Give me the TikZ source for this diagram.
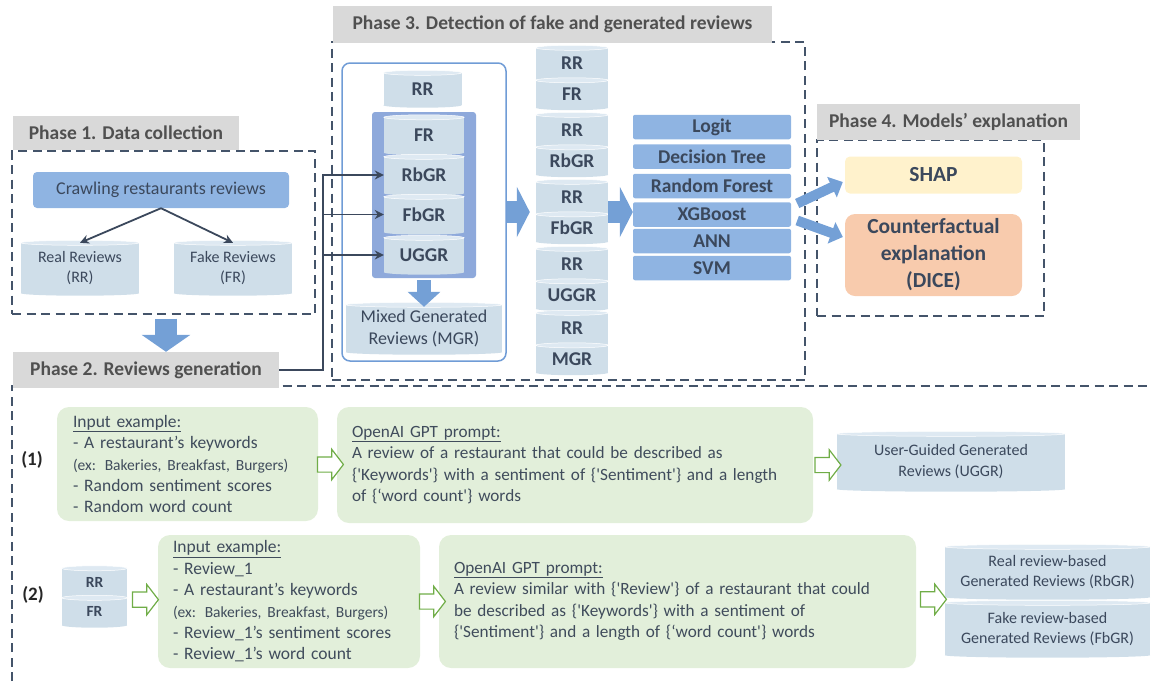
\documentclass[tikz,border=0pt]{standalone}
\usepackage{fontspec}
\setmainfont{Carlito}
\usetikzlibrary{arrows.meta, positioning, calc, shapes.arrows}
\definecolor{txtdark}{RGB}{59,72,92}
\definecolor{txtbody}{RGB}{64,76,92}
\definecolor{labeltext}{RGB}{80,80,80}
\definecolor{labelgrey}{RGB}{217,217,217}
\definecolor{dashcol}{RGB}{68,84,106}
\definecolor{boxblue}{RGB}{143,180,226}
\definecolor{panelblue}{RGB}{142,169,219}
\definecolor{innerblue}{RGB}{112,156,214}
\definecolor{arrowblue}{RGB}{116,160,214}
\definecolor{dbfill}{RGB}{207,222,233}
\definecolor{dbrim}{RGB}{222,233,242}
\definecolor{greenfill}{RGB}{226,239,218}
\definecolor{greenline}{RGB}{112,173,71}
\definecolor{shapfill}{RGB}{255,242,204}
\definecolor{dicefill}{RGB}{248,203,173}
\newcommand{\sq}{\textquotesingle}

\begin{document}
\begin{tikzpicture}[x=1pt, y=-1pt,
    phasebox/.style={draw=dashcol, line width=1.3pt, dash pattern=on 9pt off 5.5pt},
    phaselabel/.style={fill=labelgrey, text=labeltext, font=\fontsize{19.5}{22}\selectfont\bfseries, inner sep=0pt},
    db/.style={fill=dbfill, text=txtdark, font=\fontsize{16}{20.5}\selectfont, align=center, inner sep=0pt},
    dbbold/.style={db, font=\fontsize{19.5}{22}\selectfont\bfseries},
    model/.style={fill=boxblue, rounded corners=2pt, text=txtdark, font=\fontsize{19.5}{22}\selectfont\bfseries, minimum width=158pt, minimum height=24.5pt, inner sep=0pt},
    gbox/.style={fill=greenfill, rounded corners=12pt, text=txtbody, font=\fontsize{17.5}{21.4}\selectfont, align=left, inner ysep=0pt},
    prompt/.style={gbox, font=\fontsize{17.2}{21.5}\selectfont},
    garrow/.style={single arrow, draw=greenline, fill=white, line width=1.2pt, minimum height=26pt, inner xsep=0pt, inner ysep=7pt, single arrow head extend=7.5pt, single arrow tip angle=105, single arrow head indent=0pt},
    conn/.style={draw=txtdark, line width=1.8pt, -{Stealth[length=9pt, width=9pt]}},
    bigarrow/.style={draw=arrowblue, line width=22pt, -{Triangle[length=13pt, width=50pt]}},
    numlabel/.style={font=\fontsize{19}{22}\selectfont\bfseries, text=black!85}
]
    \useasboundingbox (0,0) rectangle (1151,681);

    % Dashed phase frames
    \node[phasebox, minimum width=303pt, minimum height=163pt] (box1) at (163.5,232.5) {};
    \node[phasebox, minimum width=473pt, minimum height=338pt] (box3) at (568.5,211) {};
    \node[phasebox, minimum width=227pt, minimum height=176pt] (box4) at (930.5,228) {};
    \draw[phasebox] (12,681) -- (12,386) -- (1151,386);

    % Phase titles
    \node[phaselabel, minimum width=226pt, minimum height=34pt] (lab1) at (126,133) {Phase 1. Data collection};
    \node[phaselabel, minimum width=266pt, minimum height=36pt] (lab2) at (146,370) {Phase 2. Reviews generation};
    \node[phaselabel, minimum width=439pt, minimum height=37pt] (lab3) at (552.5,24.5) {Phase 3. Detection of fake and generated reviews};
    \node[phaselabel, minimum width=263pt, minimum height=36pt] (lab4) at (948.5,122) {Phase 4. Models’ explanation};

    % Phase 1
    \node[fill=boxblue, rounded corners=4pt, text=txtdark, font=\fontsize{18}{21}\selectfont, minimum width=256pt, minimum height=36pt] (crawl) at (161,190) {Crawling restaurants reviews};
    \node[db, minimum width=118pt, minimum height=50pt] (real) at (80,268) {Real Reviews\\(RR)};
    \node[db, minimum width=118pt, minimum height=50pt] (fake) at (233,268) {Fake Reviews\\(FR)};

    % Phase 3
    \node[draw=innerblue, line width=1.5pt, rounded corners=8pt, fill=white, minimum width=164pt, minimum height=298pt] (inner) at (424,212) {};
    \node[dbbold, minimum width=78pt, minimum height=32pt] (rr1) at (422.5,89) {RR};
    \node[fill=panelblue, rounded corners=3pt, minimum width=104pt, minimum height=166pt] (panel) at (424,195) {};
    \node[dbbold, minimum width=80pt, minimum height=35pt] (fr1) at (424,135) {FR};
    \node[dbbold, minimum width=80pt, minimum height=36pt] (rb) at (424,175) {RbGR};
    \node[dbbold, minimum width=80pt, minimum height=35pt] (fb) at (424,214.5) {FbGR};
    \node[dbbold, minimum width=80pt, minimum height=34pt] (ug) at (424,255) {UGGR};
    \node[db, font=\fontsize{18}{21.5}\selectfont, minimum width=156pt, minimum height=47pt] (mgr) at (424,328.5) {Mixed Generated\\Reviews (MGR)};

    \foreach \y/\lab [count=\i] in {48/FR,115/RbGR,182/FbGR,249/UGGR,313/MGR} {
        \node[dbbold, minimum width=72pt, minimum height=31pt] (pa\i) at (572,\y+15.5) {RR};
        \node[dbbold, minimum width=72pt, minimum height=27pt] (pb\i) at (572,\y+46) {\lab};
    }

    \foreach \y/\m/\t in {127/logit/Logit, 156.5/dtree/Decision Tree, 186/rforest/Random Forest, 214.5/xgb/XGBoost, 241/ann/ANN, 268/svm/SVM}
        \node[model] (\m) at (712,\y) {\t};

    % Phase 4
    \node[fill=shapfill, rounded corners=5pt, text=txtdark, font=\fontsize{21.5}{26}\selectfont\bfseries, minimum width=177pt, minimum height=37pt] (shap) at (933.5,175) {SHAP};
    \node[fill=dicefill, rounded corners=10pt, text=txtdark, align=center, inner sep=0pt, font=\fontsize{21.5}{27}\selectfont\bfseries, minimum width=177pt, minimum height=82pt] (dice) at (933.5,255) {Counterfactual\\explanation\\(DICE)};

    % Row (1)
    \node[numlabel] (n1) at (32,460) {(1)};
    \node[gbox, text width=229pt, inner xsep=16pt, minimum height=114pt] (in1) at (187.5,464) {\underline{Input example:}\\- A restaurant’s keywords\\{\fontsize{15.5}{21.4}\selectfont (ex: Bakeries, Breakfast, Burgers)}\\- Random sentiment scores\\- Random word count};
    \node[prompt, text width=446pt, inner xsep=15pt, minimum height=116pt] (p1) at (575,465) {\underline{OpenAI GPT prompt:}\\A review of a restaurant that could be described as\\\{\sq Keywords\sq\} with a sentiment of \{\sq Sentiment\sq\} and a length\\of \{‘word count\sq\} words};
    \node[db, minimum width=228pt, minimum height=55pt] (uggr) at (951,461.5) {User-Guided Generated\\Reviews (UGGR)};

    % Row (2)
    \node[numlabel] (n2) at (33,595) {(2)};
    \node[db, font=\fontsize{15.5}{18}\selectfont\bfseries, minimum width=65pt, minimum height=28pt] (rr2) at (94.5,582.5) {RR};
    \node[db, font=\fontsize{15.5}{18}\selectfont\bfseries, minimum width=65pt, minimum height=27pt] (fr2) at (94.5,611.5) {FR};
    \node[gbox, text width=232pt, inner xsep=15pt, minimum height=133pt] (in2) at (289,601.5) {\underline{Input example:}\\- Review\_1\\- A restaurant’s keywords\\{\fontsize{15.5}{21.4}\selectfont (ex: Bakeries, Breakfast, Burgers)}\\- Review\_1’s sentiment scores\\- Review\_1’s word count};
    \node[prompt, text width=447pt, inner xsep=15pt, minimum height=133pt] (p2) at (677.5,601.5) {\underline{OpenAI GPT prompt:}\\A review similar with \{\sq Review\sq\} of a restaurant that could\\be described as \{\sq Keywords\sq\} with a sentiment of\\\{\sq Sentiment\sq\} and a length of \{‘word count\sq\} words};
    \node[db, minimum width=205pt, minimum height=50pt] (rbgr) at (1047.5,572) {Real review-based\\Generated Reviews (RbGR)};
    \node[db, minimum width=205pt, minimum height=52pt] (fbgr) at (1047.5,629) {Fake review-based\\Generated Reviews (FbGR)};

    % Cylinder caps
    \foreach \c in {real,fake,rr1,fr1,rb,fb,ug,mgr,pa1,pb1,pa2,pb2,pa3,pb3,pa4,pb4,pa5,pb5,uggr,rr2,fr2,rbgr,fbgr} {
        \path let \p1=($(\c.north east)-(\c.north west)$) in
            [fill=dbfill] (\c.south) ellipse ({0.5*\x1} and 2.5pt);
        \path let \p1=($(\c.north east)-(\c.north west)$) in
            [fill=dbrim, draw=white, line width=0.5pt] (\c.north) ellipse ({0.5*\x1} and 2.5pt);
    }

    % Arrows
    \draw[conn] (crawl.south) -- (real.north);
    \draw[conn] (crawl.south) -- (fake.north);
    \draw[bigarrow, -{Triangle[length=17pt, width=48pt]}] ([xshift=2.5pt, yshift=-4pt]box1.south) -- ([xshift=2.5pt]box1.south |- lab2.north);

    \coordinate (split) at (323,175);
    \draw[conn] (lab2.east) -| (split) -- (rb.west);
    \draw[conn] (split |- fb.west) -- (fb.west);
    \draw[conn] (split |- ug.west) -- (ug.west);

    \draw[arrowblue, line width=14pt, -{Triangle[length=15pt, width=32pt]}] ([yshift=-2pt]panel.south) -- ([yshift=-2pt]mgr.north);
    \draw[bigarrow] (inner.east) -- ([xshift=-6pt]inner.east -| pa3.west);
    \draw[bigarrow] (pa3.east |- inner.east) -- (xgb.west |- inner.east);

    \draw[arrowblue, line width=10pt, -{Triangle[length=12pt, width=22pt]}] ([xshift=6pt, yshift=11pt]xgb.east) -- ([xshift=-2pt, yshift=-7pt]shap.west);
    \draw[arrowblue, line width=10pt, -{Triangle[length=12pt, width=22pt]}] ([xshift=6pt, yshift=-6pt]xgb.east) -- ([xshift=-2pt, yshift=18pt]dice.west);

    \node[garrow] (ga1) at ($(in1.east)!0.5!(p1.west)$) {};
    \node[garrow] (ga2) at ($(p1.east)!0.5!(uggr.west |- p1.east)$) {};
    \node[garrow] (ga3) at ($(fr2.north east)!0.5!(in2.west)$) {};
    \node[garrow] (ga4) at ($(in2.east)!0.5!(p2.west)$) {};
    \node[garrow] (ga5) at ($(p2.east)!0.5!(rbgr.south west)$) {};
\end{tikzpicture}
\end{document}
